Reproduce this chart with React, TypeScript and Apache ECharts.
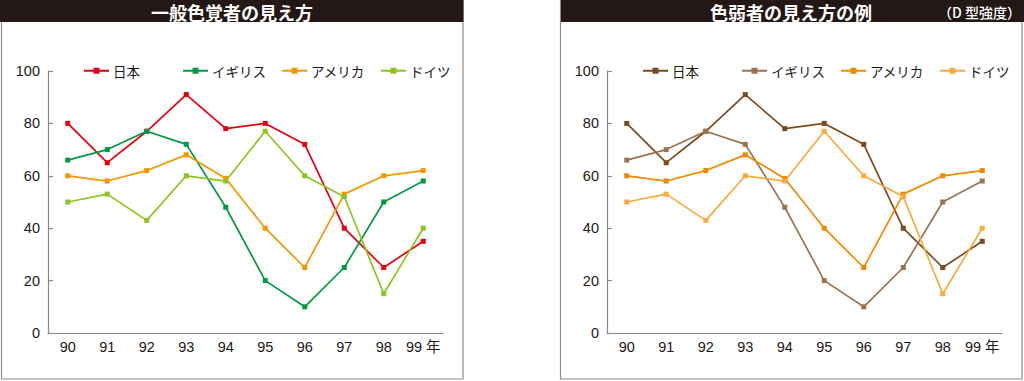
import React, { useEffect, useRef } from "react";
import * as echarts from "echarts";

const years = ["90", "91", "92", "93", "94", "95", "96", "97", "98", "99 年"];
const countries = ["日本", "イギリス", "アメリカ", "ドイツ"];
const japan = [80, 65, 77, 91, 78, 80, 72, 40, 25, 35];
const uk = [66, 70, 77, 72, 48, 20, 10, 25, 50, 58];
const usa = [60, 58, 62, 68, 59, 40, 25, 53, 60, 62];
const germany = [50, 53, 43, 60, 58, 77, 60, 52, 15, 40];
const seriesValues = [japan, uk, usa, germany];
const yMin = 0;
const yMax = 100;
const yInterval = 20;

const normalColors = ["#e60012", "#009944", "#f39800", "#8fc31f"];
const weakColors = ["#7b4a1e", "#9c7350", "#ee8a00", "#f8ab3c"];

const titleNormal = "一般色覚者の見え方";
const titleWeak = "色弱者の見え方の例";
const titleWeakNote = "（D 型強度）";

const FONT = "'Liberation Sans', 'Noto Sans CJK JP', sans-serif";
const CJK = "'Noto Sans CJK JP', sans-serif";

const legendLefts = [83, 182, 281, 380];

function buildOption(title: string, colors: string[], note: string | null, barX: number, barW: number) {
  const graphic: any[] = [
    {
      type: "rect",
      shape: { x: 1.5, y: 0.5, width: 461.5, height: 378.5 },
      style: { fill: "none", stroke: "#8c8c8c", lineWidth: 1.2 },
      silent: true,
    },
    {
      type: "rect",
      shape: { x: barX, y: 0, width: barW, height: 22 },
      style: { fill: "#231815" },
      silent: true,
    },
    {
      type: "text",
      x: 232,
      y: 11.5,
      style: {
        text: title,
        fill: "#ffffff",
        font: `bold 18px ${CJK}`,
        align: "center",
        verticalAlign: "middle",
      },
      silent: true,
    },
  ];
  if (note) {
    graphic.push({
      type: "text",
      x: 462,
      y: 11.5,
      style: {
        text: note,
        fill: "#ffffff",
        font: `500 14px ${CJK}`,
        align: "right",
        verticalAlign: "middle",
      },
      silent: true,
    });
  }
  return {
    animation: false,
    backgroundColor: "#ffffff",
    graphic,
    legend: countries.map((c, i) => ({
      data: [c],
      left: legendLefts[i],
      top: 64,
      padding: 0,
      itemWidth: 25,
      itemHeight: 7.5,
      itemGap: 0,
      selectedMode: false,
      textStyle: { fontSize: 13.5, color: "#231815", fontFamily: CJK, padding: [0, 0, 0, -1] },
    })),
    grid: { left: 48, top: 71, width: 395, height: 262, containLabel: false },
    xAxis: {
      type: "category",
      data: years,
      boundaryGap: true,
      axisLine: { lineStyle: { color: "#8a8a8a", width: 1.2 } },
      axisTick: { inside: true, length: 5, interval: 0, lineStyle: { color: "#8a8a8a", width: 1.2 } },
      axisLabel: { fontSize: 14.5, color: "#231815", fontFamily: FONT, margin: 7, interval: 0 },
      splitLine: { show: false },
    },
    yAxis: {
      type: "value",
      min: yMin,
      max: yMax,
      interval: yInterval,
      axisLine: { show: true, lineStyle: { color: "#8a8a8a", width: 1.2 } },
      axisTick: { show: true, inside: true, length: 5, lineStyle: { color: "#8a8a8a", width: 1.2 } },
      axisLabel: { fontSize: 14.5, color: "#231815", fontFamily: FONT, margin: 8 },
      splitLine: { show: false },
    },
    series: countries.map((c, i) => ({
      name: c,
      type: "line",
      data: seriesValues[i],
      symbol: "rect",
      symbolSize: 5,
      color: colors[i],
      lineStyle: { width: 1.7, color: colors[i] },
      itemStyle: { color: colors[i] },
      emphasis: { disabled: true },
    })),
  };
}

function Panel({ left, option }: { left: number; option: any }) {
  const ref = useRef<HTMLDivElement>(null);
  useEffect(() => {
    if (!ref.current) return;
    const chart = echarts.init(ref.current, undefined, { renderer: "svg" });
    chart.setOption(option);
    return () => chart.dispose();
  }, [option]);
  return (
    <div
      ref={ref}
      style={{ position: "absolute", left, top: 0, width: 465, height: 381 }}
    />
  );
}

const optNormal = buildOption(titleNormal, normalColors, null, 0, 463.5);
const optWeak = buildOption(titleWeak, weakColors, titleWeakNote, 2, 463);

export default function App() {
  return (
    <div
      style={{
        position: "fixed",
        left: 0,
        top: 0,
        width: 1024,
        height: 381,
        background: "#ffffff",
        overflow: "hidden",
      }}
    >
      <Panel left={0} option={optNormal} />
      <Panel left={559} option={optWeak} />
    </div>
  );
}
